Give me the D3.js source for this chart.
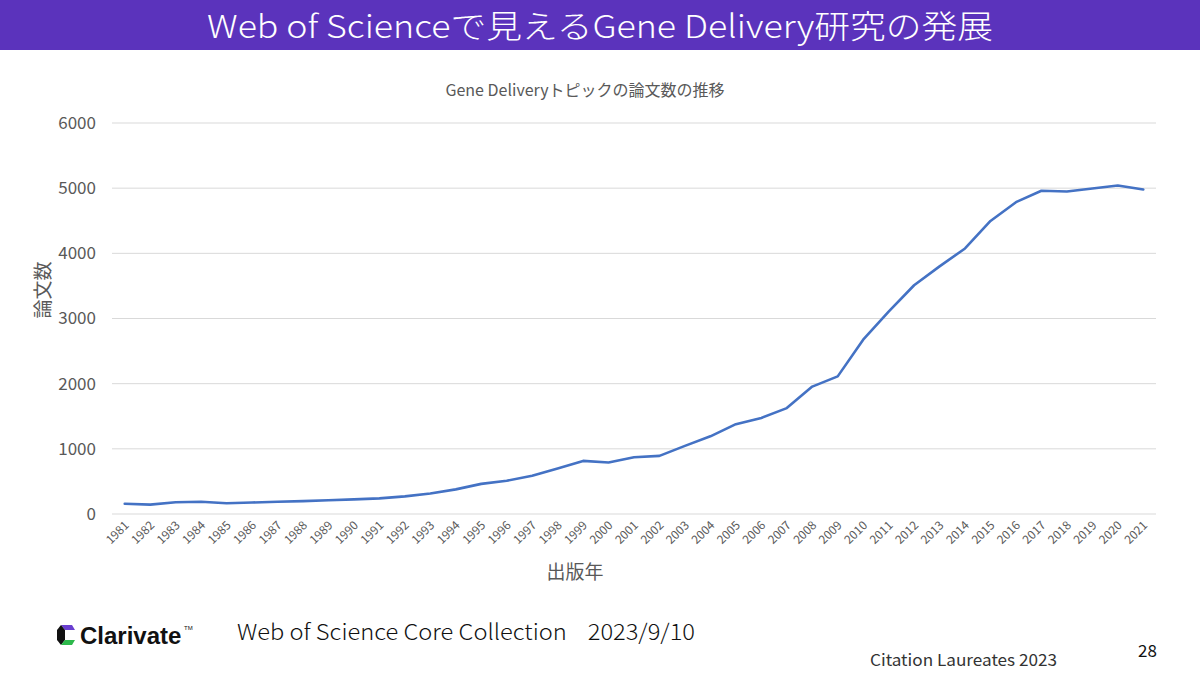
<!DOCTYPE html>
<html><head><meta charset="utf-8">
<script src="https://cdn.jsdelivr.net/npm/d3@7"></script>
<style>html,body{margin:0;padding:0;background:#fff;}svg{display:block;}</style>
</head><body>
<script>
const years = ["1981","1982","1983","1984","1985","1986","1987","1988","1989","1990","1991","1992","1993","1994","1995","1996","1997","1998","1999","2000","2001","2002","2003","2004","2005","2006","2007","2008","2009","2010","2011","2012","2013","2014","2015","2016","2017","2018","2019","2020","2021"];
const papers = [157,144,180,188,165,176,188,198,210,224,240,270,315,378,462,510,588,700,815,790,870,892,1045,1192,1378,1474,1625,1955,2112,2675,3105,3510,3800,4075,4497,4785,4960,4950,4995,5040,4980];
const yTicks = [0,1000,2000,3000,4000,5000,6000];

const W=1200,H=675;
const svg=d3.select("body").append("svg").attr("width",W).attr("height",H);
const FONT='"Noto Sans CJK JP","Noto Sans",sans-serif';

// header bar
svg.append("rect").attr("x",0).attr("y",0).attr("width",W).attr("height",50).attr("fill","#5b33bc");
svg.append("text").attr("x",600).attr("y",38).attr("text-anchor","middle")
  .attr("fill","#fff").style("font-family",FONT).style("font-size","32px").style("font-weight","300")
  .attr("textLength",786).attr("lengthAdjust","spacingAndGlyphs")
  .text("Web of Scienceで見えるGene Delivery研究の発展");

// chart title
svg.append("text").attr("x",585).attr("y",96).attr("text-anchor","middle")
  .attr("fill","#595959").style("font-family",FONT).style("font-size","16px")
  .text("Gene Deliveryトピックの論文数の推移");

const x=d3.scaleBand().domain(years).range([112,1156]);
const y=d3.scaleLinear().domain([0,6000]).range([514,123]);

// gridlines
svg.append("g").selectAll("line").data(yTicks).join("line")
  .attr("x1",112).attr("x2",1156).attr("y1",d=>y(d)).attr("y2",d=>y(d))
  .attr("stroke","#d9d9d9").attr("stroke-width",1);

// y axis
const yAxis=svg.append("g").attr("transform","translate(112,0)")
  .call(d3.axisLeft(y).tickValues(yTicks).tickSize(0).tickPadding(16).tickFormat(d3.format("d")));
yAxis.select(".domain").remove();
yAxis.selectAll("text").attr("fill","#595959").style("font-family",FONT).style("font-size","17px");

// x axis
const xAxis=svg.append("g").attr("transform","translate(0,514)")
  .call(d3.axisBottom(x).tickSize(0).tickPadding(0));
xAxis.select(".domain").remove();
xAxis.selectAll("text").attr("fill","#595959").style("font-family",FONT).style("font-size","12px")
  .attr("text-anchor","end").attr("dy",0)
  .attr("transform","translate(5,12) rotate(-45)");

// axis titles
svg.append("text").attr("transform","translate(50,290) rotate(-90)").attr("text-anchor","middle")
  .attr("fill","#595959").style("font-family",FONT).style("font-size","19px").text("論文数");
svg.append("text").attr("x",575).attr("y",579).attr("text-anchor","middle")
  .attr("fill","#595959").style("font-family",FONT).style("font-size","19px").text("出版年");

// line
const line=d3.line().x((d,i)=>x(years[i])+x.bandwidth()/2).y(d=>y(d));
svg.append("path").datum(papers).attr("d",line).attr("fill","none")
  .attr("stroke","#4472c4").attr("stroke-width",2.6).attr("stroke-linejoin","round").attr("stroke-linecap","round");

// Clarivate logo
const lg=svg.append("g").attr("transform","translate(56,625)");
lg.append("path").attr("d","M5,0 L16,0 L19,5 L9,5 Z").attr("fill","#6a3fd0");
lg.append("path").attr("d","M5,0 L9,5 L9,15 L5,20 L1,15 L1,5 Z").attr("fill","#111");
lg.append("path").attr("d","M9,15 L19,15 L16,20 L5,20 Z").attr("fill","#2db84b");
svg.append("text").attr("x",80).attr("y",644).attr("fill","#111")
  .style("font-family","'Liberation Sans',Arial,sans-serif").style("font-weight","bold").style("font-size","24px")
  .text("Clarivate");
svg.append("text").attr("x",184).attr("y",630).attr("fill","#111")
  .style("font-family","'Liberation Sans',Arial,sans-serif").style("font-size","6px").text("TM");

// footer texts
svg.append("text").attr("x",237).attr("y",640).attr("fill","#111")
  .style("font-family",FONT).style("font-weight","300").style("font-size","22px")
  .attr("xml:space","preserve").attr("textLength",458).attr("lengthAdjust","spacingAndGlyphs")
  .text("Web of Science Core Collection    2023/9/10");
svg.append("text").attr("x",870).attr("y",666).attr("fill","#333")
  .style("font-family",FONT).style("font-size","16px")
  .attr("textLength",187).attr("lengthAdjust","spacingAndGlyphs").text("Citation Laureates 2023");
svg.append("text").attr("x",1138).attr("y",657).attr("fill","#111")
  .style("font-family",FONT).style("font-size","17px").text("28");
</script>
</body></html>
